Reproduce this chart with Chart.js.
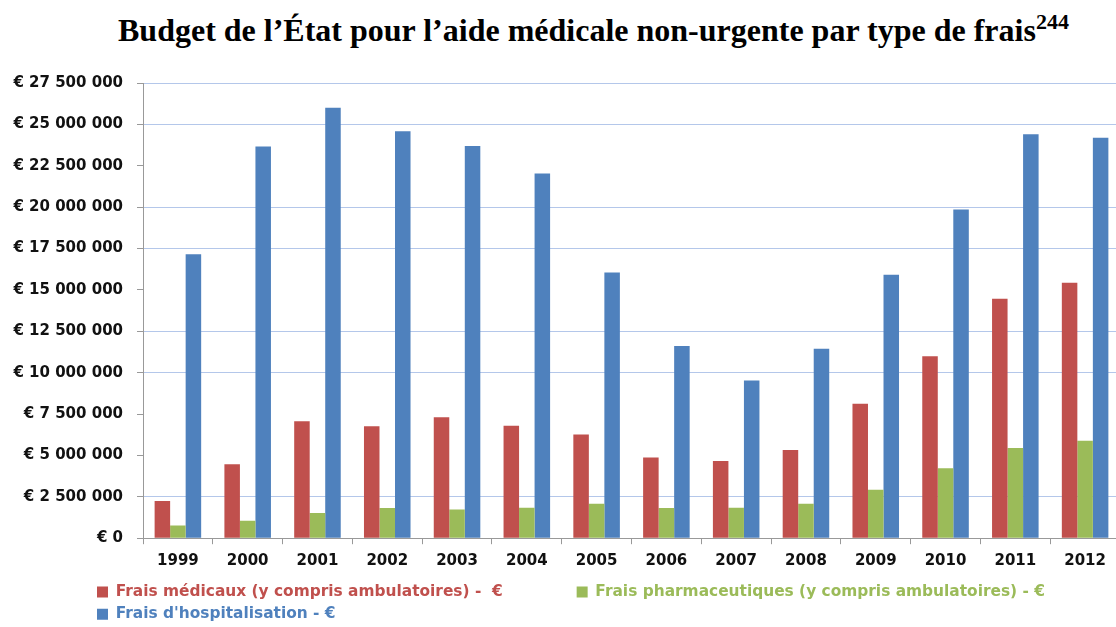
<!DOCTYPE html>
<html>
<head>
<meta charset="utf-8">
<script src="https://cdn.jsdelivr.net/npm/chart.js@4.4.1/dist/chart.umd.min.js"></script>
<style>
  body { margin: 0; width: 1116px; height: 627px; overflow: hidden; background: #fff; }
  .title {
    position: absolute; left: 118px; top: 14px; white-space: nowrap; line-height: 1;
    font-family: 'Liberation Serif', serif; font-weight: bold; font-size: 32px; color: #000;
  }
  .title sup { font-size: 22px; vertical-align: baseline; position: relative; top: -12px; }
  .chart { position: absolute; left: 0; top: 60px; width: 1125px; height: 572px; }
</style>
</head>
<body>
<div class="title">Budget de l’État pour l’aide médicale non-urgente par type de frais<sup>244</sup></div>
<div class="chart"><canvas id="chart"></canvas></div>
<script>
const years = ['1999', '2000', '2001', '2002', '2003', '2004', '2005', '2006', '2007', '2008', '2009', '2010', '2011', '2012'];
const fraisMedicaux = [2240000, 4460000, 7070000, 6770000, 7310000, 6800000, 6260000, 4880000, 4660000, 5330000, 8130000, 10990000, 14470000, 15440000];
const fraisPharma = [760000, 1060000, 1520000, 1820000, 1740000, 1840000, 2080000, 1820000, 1840000, 2080000, 2920000, 4220000, 5450000, 5890000];
const fraisHospi = [17160000, 23660000, 26000000, 24580000, 23700000, 22040000, 16050000, 11610000, 9530000, 11450000, 15920000, 19860000, 24400000, 24190000];

// gridlines (by tick index) that don't show in the original
const hiddenGrid = [0, 2, 3, 6, 9];

const fmt = (v) => '€ ' + String(v).replace(/\B(?=(\d{3})+(?!\d))/g, ' ');
const tickFont = { family: 'DejaVu Sans', weight: 'bold', size: 15 };

// legend starts under the y labels, not at the canvas edge
const shiftLegend = {
  id: 'shiftLegend',
  afterLayout(chart) {
    if (chart.legend) chart.legend.left = 90;
  },
};

new Chart(document.getElementById('chart'), {
  type: 'bar',
  data: {
    labels: years,
    datasets: [
      { label: 'Frais médicaux (y compris ambulatoires) -  €', data: fraisMedicaux, backgroundColor: '#C0504D' },
      { label: 'Frais pharmaceutiques (y compris ambulatoires) - €', data: fraisPharma, backgroundColor: '#9BBB59' },
      { label: "Frais d'hospitalisation - €", data: fraisHospi, backgroundColor: '#4F81BD' },
    ],
  },
  plugins: [shiftLegend],
  options: {
    responsive: true,
    maintainAspectRatio: false,
    animation: false,
    layout: { padding: { top: 18, right: 5, left: 0, bottom: 0 } },
    datasets: { bar: { categoryPercentage: 0.667, barPercentage: 1 } },
    plugins: {
      tooltip: { enabled: false },
      legend: {
        position: 'bottom',
        align: 'start',
        labels: {
          font: { family: 'DejaVu Sans', weight: 'bold', size: 15.4 },
          boxWidth: 11,
          boxHeight: 11,
          padding: 7,
          generateLabels: (chart) => {
            const items = Chart.defaults.plugins.legend.labels.generateLabels(chart);
            items.forEach((it, i) => {
              it.fontColor = chart.data.datasets[i].backgroundColor;
              // push the second entry over to where it sits in the original
              if (i === 0) it.text = it.text + '\u2003\u2003\u2003\u2003 ';
            });
            return items;
          },
        },
      },
    },
    scales: {
      x: {
        afterFit: (scale) => { scale.height = 39; },
        grid: { offset: true, drawOnChartArea: false, tickLength: 6, tickColor: '#999' },
        border: { color: '#999' },
        ticks: { font: { family: 'DejaVu Sans', weight: 'bold', size: 15 }, color: '#111', padding: 8 },
      },
      y: {
        min: 0,
        max: 27500000,
        afterFit: (scale) => { scale.width = 143; },
        ticks: { stepSize: 2500000, font: tickFont, color: '#111', padding: 14, callback: fmt },
        grid: {
          tickLength: 6,
          tickColor: '#999',
          color: (ctx) => (hiddenGrid.includes(ctx.index) ? 'rgba(0,0,0,0)' : '#B4C7EA'),
        },
        border: { color: '#999' },
      },
    },
  },
});
</script>
</body>
</html>
